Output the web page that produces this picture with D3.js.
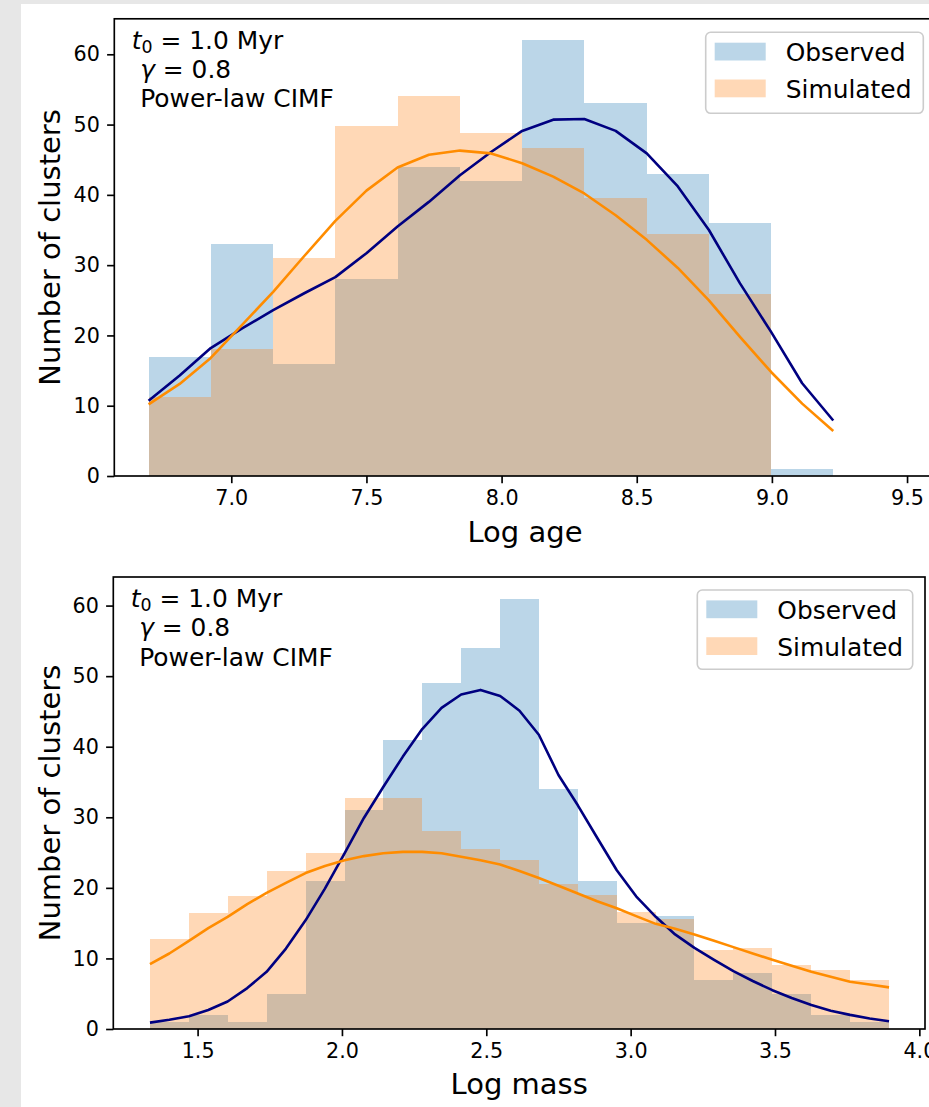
<!DOCTYPE html>
<html><head><meta charset="utf-8">
<script src="https://cdn.jsdelivr.net/npm/d3@7"></script>
<style>
body{margin:0;background:#e7e7e7;}
svg{display:block;}
text{font-family:"DejaVu Sans";fill:#000;}
</style>
</head><body>
<svg id="chart" width="929" height="1107"></svg>
<script>
// ---------- DATA ----------
const seriesNames = ["Observed", "Simulated"];
const countTicks = [0, 10, 20, 30, 40, 50, 60];

// Panel 1: Log age
const ageBinEdges = [6.694, 6.924, 7.155, 7.385, 7.615, 7.846, 8.076, 8.306, 8.537, 8.767, 8.997, 9.227];
const ageObserved = [17, 33, 16, 28, 44, 42, 62, 53, 43, 36, 1];
const ageSimulated = [11.2, 18, 31, 49.8, 54, 48.8, 46.6, 39.6, 34.4, 25.9, 0];
const ageCurveX = [6.694, 6.809, 6.924, 7.040, 7.155, 7.270, 7.385, 7.500, 7.615, 7.731, 7.846, 7.961,
                   8.076, 8.191, 8.306, 8.422, 8.537, 8.652, 8.767, 8.882, 8.997, 9.112, 9.227];
const ageCurveObserved = [10.7, 14.3, 18.2, 21.0, 23.6, 26.0, 28.3, 31.7, 35.5, 39.0, 42.8, 46.1,
                          49.1, 50.7, 50.8, 49.1, 45.9, 41.2, 35.0, 27.4, 20.5, 13.2, 7.9];
const ageCurveSimulated = [10.2, 13.1, 16.8, 21.5, 26.2, 31.3, 36.3, 40.6, 43.9, 45.7, 46.3, 45.9,
                           44.5, 42.6, 40.2, 37.1, 33.6, 29.6, 25.0, 19.8, 14.8, 10.3, 6.4];
const ageTicks = [7.0, 7.5, 8.0, 8.5, 9.0, 9.5];

// Panel 2: Log mass
const massBinEdges = [1.335, 1.470, 1.604, 1.739, 1.874, 2.009, 2.143, 2.278, 2.413, 2.548,
                      2.682, 2.817, 2.952, 3.087, 3.221, 3.356, 3.491, 3.626, 3.760, 3.895];
const massObserved = [1, 2, 1, 5, 21, 31, 41, 49, 54, 61, 34, 21, 15, 16, 7, 8, 5, 2, 1];
const massSimulated = [12.7, 16.4, 18.9, 22.4, 25.0, 32.8, 32.8, 28.1, 25.5, 23.9, 20.5, 19.0,
                       16.6, 15.6, 11.2, 11.5, 9.1, 8.3, 6.9];
const massCurveX = [1.335, 1.402, 1.470, 1.537, 1.604, 1.672, 1.739, 1.806, 1.874, 1.941, 2.009,
                    2.076, 2.143, 2.211, 2.278, 2.345, 2.413, 2.480, 2.548, 2.615, 2.682, 2.750,
                    2.817, 2.884, 2.952, 3.019, 3.087, 3.154, 3.221, 3.289, 3.356, 3.423, 3.491,
                    3.558, 3.626, 3.693, 3.760, 3.828, 3.895];
const massCurveObserved = [0.9, 1.3, 1.8, 2.7, 3.9, 5.8, 8.1, 11.4, 15.4, 19.9, 24.9, 29.9, 34.3,
                           38.6, 42.5, 45.5, 47.4, 48.05, 47.2, 45.1, 41.7, 36.0, 31.7, 27.1, 22.5,
                           18.8, 15.9, 13.4, 11.5, 9.8, 8.2, 6.8, 5.5, 4.4, 3.4, 2.6, 2.0, 1.5, 1.1];
const massCurveSimulated = [9.2, 10.7, 12.5, 14.3, 15.9, 17.7, 19.3, 20.7, 22.1, 23.1, 23.9, 24.5,
                            24.9, 25.1, 25.1, 24.9, 24.4, 23.9, 23.3, 22.4, 21.4, 20.3, 19.2, 18.1,
                            17.1, 16.0, 14.9, 14.2, 13.4, 12.5, 11.6, 10.7, 9.8, 8.95, 8.1, 7.4,
                            6.7, 6.3, 5.9];
const massTicks = [1.5, 2.0, 2.5, 3.0, 3.5, 4.0];

const annotation = {t0: "1.0 Myr", gamma: "0.8", cimf: "Power-law CIMF"};
const yLabel = "Number of clusters";

// ---------- DRAW ----------
const svg = d3.select("#chart");
svg.append("rect").attr("x", 21).attr("y", 4).attr("width", 908).attr("height", 1103).attr("fill", "#fff");

const C0 = "#1f77b4", C1 = "#ff7f0e";
const TICK_FS = 20.7, LEG_FS = 24.9, LAB_FS = 29;

function panel(o) {
  const x = d3.scaleLinear().domain(o.xDomain).range([o.left, o.right]);
  const y = d3.scaleLinear().domain(o.yDomain).range([o.bottom, o.top]);
  const g = svg.append("g");
  const clipId = "clip" + o.id;
  svg.append("clipPath").attr("id", clipId).append("rect")
    .attr("x", o.left).attr("y", o.top).attr("width", o.right - o.left).attr("height", o.bottom - o.top);
  const plot = g.append("g").attr("clip-path", `url(#${clipId})`);

  [[o.obs, C0], [o.sim, C1]].forEach(([vals, col]) => {
    plot.append("g").selectAll("rect").data(vals).join("rect")
      .attr("x", (d, i) => x(o.edges[i]))
      .attr("width", (d, i) => x(o.edges[i + 1]) - x(o.edges[i]))
      .attr("y", d => y(d))
      .attr("height", d => y(0) - y(d))
      .attr("fill", col).attr("fill-opacity", 0.3)
      .attr("shape-rendering", "crispEdges");
  });

  const line = d3.line().x(d => x(d[0])).y(d => y(d[1]));
  plot.append("path").datum(o.curveX.map((v, i) => [v, o.curveObs[i]]))
    .attr("d", line).attr("fill", "none").attr("stroke", "#000080").attr("stroke-width", 2.6)
    .attr("stroke-linejoin", "round");
  plot.append("path").datum(o.curveX.map((v, i) => [v, o.curveSim[i]]))
    .attr("d", line).attr("fill", "none").attr("stroke", "#ff8c00").attr("stroke-width", 2.6)
    .attr("stroke-linejoin", "round");

  // axes
  const xa = g.append("g").attr("transform", `translate(0,${o.bottom})`)
    .call(d3.axisBottom(x).tickValues(o.xTicks).tickFormat(d3.format(".1f")).tickSize(7.2).tickPadding(7.4));
  const ya = g.append("g").attr("transform", `translate(${o.left},0)`)
    .call(d3.axisLeft(y).tickValues(countTicks).tickFormat(d3.format("d")).tickSize(7.2).tickPadding(7.2));
  [xa, ya].forEach(a => {
    a.select(".domain").remove();
    a.selectAll(".tick line").attr("stroke", "#000").attr("stroke-width", 1.66);
    a.selectAll(".tick text").style("font-family", "DejaVu Sans").style("font-size", TICK_FS + "px").attr("fill", "#000");
  });

  // frame
  g.append("rect").attr("x", o.left).attr("y", o.top).attr("width", o.right - o.left)
    .attr("height", o.bottom - o.top).attr("fill", "none").attr("stroke", "#000").attr("stroke-width", 1.66);

  // axis labels
  g.append("text").attr("x", (o.left + o.right) / 2).attr("y", o.xLabelY)
    .attr("text-anchor", "middle").style("font-size", LAB_FS + "px").text(o.xLabel);
  g.append("text").attr("transform", `translate(${o.yLabelX},${(o.top + o.bottom) / 2}) rotate(-90)`)
    .attr("text-anchor", "middle").style("font-size", LAB_FS + "px").text(yLabel);

  // annotation
  const ax = o.left + 17.4;
  const t1 = g.append("text").attr("x", ax).attr("y", o.top + 30).style("font-size", LEG_FS + "px");
  t1.append("tspan").style("font-style", "italic").text("t");
  t1.append("tspan").attr("dy", 4).style("font-size", (LEG_FS * 0.7) + "px").text("0");
  t1.append("tspan").attr("dy", -4).text(" = " + annotation.t0);
  const t2 = g.append("text").attr("x", ax + 8.5).attr("y", o.top + 59.4).style("font-size", LEG_FS + "px");
  t2.append("tspan").style("font-style", "italic").text("γ");
  t2.append("tspan").text(" = " + annotation.gamma);
  g.append("text").attr("x", ax + 8.5).attr("y", o.top + 88.5).style("font-size", LEG_FS + "px").text(annotation.cimf);

  // legend
  const L = o.legend;
  g.append("rect").attr("x", L.x).attr("y", L.y).attr("width", L.w).attr("height", L.h)
    .attr("rx", 5).attr("fill", "#fff").attr("fill-opacity", 0.8)
    .attr("stroke", "#cccccc").attr("stroke-width", 1.6);
  seriesNames.forEach((name, i) => {
    const py = L.y + 10.4 + i * 36.8;
    g.append("rect").attr("x", L.x + 9).attr("y", py).attr("width", 51).attr("height", 17.8)
      .attr("fill", i === 0 ? C0 : C1).attr("fill-opacity", 0.3);
    g.append("text").attr("x", L.x + 80).attr("y", py + 18.4).style("font-size", LEG_FS + "px").text(name);
  });
}

panel({
  id: 1, left: 114.3, right: 935.7, top: 18.8, bottom: 476,
  xDomain: [6.5672, 9.606], yDomain: [0, 65.05],
  edges: ageBinEdges, obs: ageObserved, sim: ageSimulated,
  curveX: ageCurveX, curveObs: ageCurveObserved, curveSim: ageCurveSimulated,
  xTicks: ageTicks, xLabel: "Log age", xLabelY: 541.7, yLabelX: 59.5,
  legend: {x: 705.7, y: 32.3, w: 217.6, h: 81}
});
panel({
  id: 2, left: 113.3, right: 925, top: 577, bottom: 1029,
  xDomain: [1.208, 4.0196], yDomain: [0, 64.05],
  edges: massBinEdges, obs: massObserved, sim: massSimulated,
  curveX: massCurveX, curveObs: massCurveObserved, curveSim: massCurveSimulated,
  xTicks: massTicks, xLabel: "Log mass", xLabelY: 1094, yLabelX: 59.5,
  legend: {x: 697.3, y: 590, w: 215.4, h: 79.3}
});
</script>
</body></html>
